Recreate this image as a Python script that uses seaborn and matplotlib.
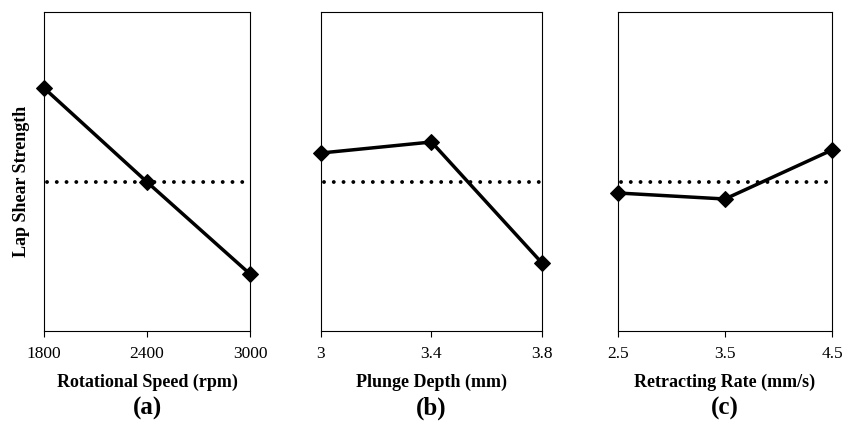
import matplotlib
matplotlib.use("Agg")
import matplotlib.pyplot as plt
import seaborn as sns
import pandas as pd

# Data (arbitrary units of lap shear strength)
speed_levels = [1800, 2400, 3000]
speed_values = [243, 149, 57]
depth_levels = [3.0, 3.4, 3.8]
depth_values = [178, 189, 68]
rate_levels = [2.5, 3.5, 4.5]
rate_values = [138, 132, 181]
mean_value = 149

speed_ticks = ["1800", "2400", "3000"]
depth_ticks = ["3", "3.4", "3.8"]
rate_ticks = ["2.5", "3.5", "4.5"]

xlabels = ["Rotational Speed (rpm)", "Plunge Depth (mm)", "Retracting Rate (mm/s)"]
panel_tags = ["(a)", "(b)", "(c)"]

sns.set_style("white")
plt.rcParams['font.family'] = ['Liberation Serif', 'DejaVu Serif']
plt.rcParams['text.color'] = 'black'
plt.rcParams['axes.labelcolor'] = 'black'
plt.rcParams['xtick.color'] = 'black'

fig = plt.figure(figsize=(8.56, 4.25), dpi=100)
W, H = 856, 425
boxes = [(44, 250), (321, 542), (618, 832)]
top, bottom = 12, 331

panels = [
    (speed_levels, speed_values, speed_ticks),
    (depth_levels, depth_values, depth_ticks),
    (rate_levels, rate_values, rate_ticks),
]

for i, ((x0, x1), (lv, vals, tl)) in enumerate(zip(boxes, panels)):
    ax = fig.add_axes([x0 / W, 1 - bottom / H, (x1 - x0) / W, (bottom - top) / H])
    df = pd.DataFrame({"x": lv, "y": vals})
    sns.lineplot(data=df, x="x", y="y", ax=ax, color="black", linewidth=2.5,
                 marker="D", markersize=8, markeredgecolor="black", clip_on=False, zorder=3)
    span = lv[-1] - lv[0]
    ax.plot([lv[0] + span * 0.015, lv[-1] - span * 0.015], [mean_value, mean_value],
            color="black", linestyle=(0, (0.01, 2.5)), linewidth=2.8,
            dash_capstyle="round", zorder=2)
    ax.set_xlim(lv[0], lv[-1])
    ax.set_ylim(0, 319)
    ax.set_xticks(lv)
    ax.set_xticklabels(tl, fontsize=12.5, color="black")
    ax.set_yticks([])
    ax.tick_params(axis="x", direction="out", length=4, width=0.8, colors="black", pad=7,
                   bottom=True)
    for s in ax.spines.values():
        s.set_color("black")
        s.set_linewidth(0.8)
    ax.set_xlabel(xlabels[i], fontsize=13, fontweight="bold", labelpad=8, color="black")
    ax.set_ylabel("")
    fig.text(((x0 + x1) / 2) / W, 1 - 408 / H, panel_tags[i], ha="center", va="center",
             fontsize=18, fontweight="bold", color="black")

fig.text(22 / W, 1 - 181 / H, "Lap Shear Strength", rotation=90, ha="center", va="center",
         fontsize=13, fontweight="bold", color="black")

fig.savefig("out.png", dpi=100, facecolor="white")
